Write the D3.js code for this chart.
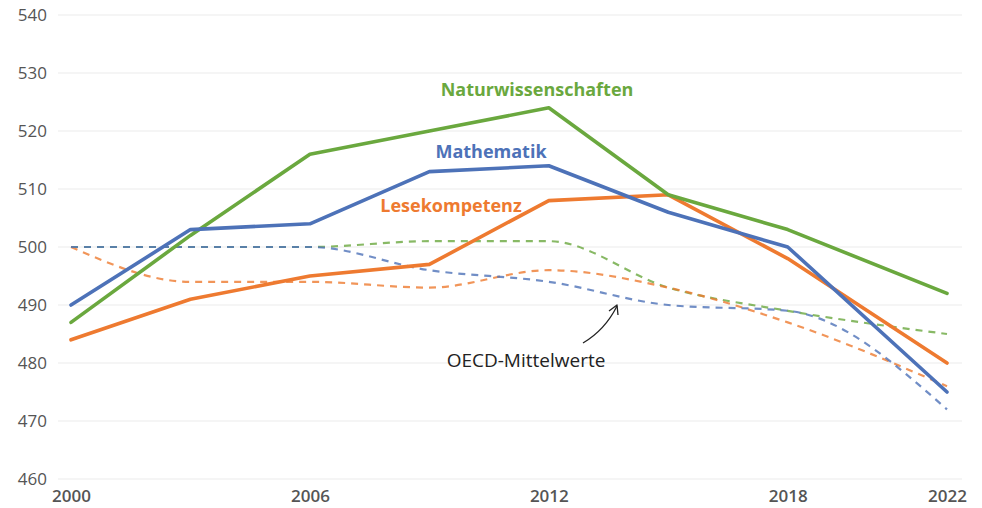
<!DOCTYPE html>
<html>
<head>
<meta charset="utf-8">
<script src="https://cdn.jsdelivr.net/npm/d3@7"></script>
<style>
  body { margin: 0; background: #fff; }
  svg { display: block; font-family: "Open Sans", "Noto Sans", sans-serif; }
</style>
</head>
<body>
<svg id="chart" width="982" height="508"></svg>
<script>
// PISA survey years and scores (Germany) plus OECD averages
const years = [2000, 2003, 2006, 2009, 2012, 2015, 2018, 2022];
const mathematik = [490, 503, 504, 513, 514, 506, 500, 475];
const lesekompetenz = [484, 491, 495, 497, 508, 509, 498, 480];
const naturwissenschaften = [487, 502, 516, 520, 524, 509, 503, 492];
const oecdMathematik = [500, 500, 500, 496, 494, 490, 489, 472];
const oecdLesen = [500, 494, 494, 493, 496, 493, 487, 476];
const oecdNatur = [500, 500, 500, 501, 501, 493, 489, 485];
const yTicks = [460, 470, 480, 490, 500, 510, 520, 530, 540];
const xTicks = [2000, 2006, 2012, 2018, 2022];

const colors = { natur: "#6aa83e", mathe: "#4d72b8", lesen: "#ee7a30" };

const svg = d3.select("#chart");
const x = d3.scaleLinear().domain([2000, 2022]).range([71, 947]);
const y = d3.scaleLinear().domain([460, 540]).range([479, 15]);

// horizontal gridlines
svg.append("g")
  .selectAll("line").data(yTicks).join("line")
  .attr("x1", 58).attr("x2", 962)
  .attr("y1", d => y(d)).attr("y2", d => y(d))
  .attr("stroke", "#ececec").attr("stroke-width", 1.2);

// y axis labels
const yAxis = svg.append("g").attr("transform", "translate(47,0)")
  .call(d3.axisLeft(y).tickValues(yTicks).tickSize(0).tickPadding(0));
yAxis.select(".domain").remove();
yAxis.selectAll("text")
  .attr("font-size", 17).attr("font-weight", 500).attr("fill", "#555").attr("font-family", "Open Sans, sans-serif");

// x axis labels
const xAxis = svg.append("g").attr("transform", "translate(0,487)")
  .call(d3.axisBottom(x).tickValues(xTicks).tickFormat(d3.format("d")).tickSize(0).tickPadding(3));
xAxis.select(".domain").remove();
xAxis.selectAll("text")
  .attr("font-size", 17).attr("font-weight", 600).attr("fill", "#555").attr("font-family", "Open Sans, sans-serif");

// OECD averages: smoothed dashed lines
const smooth = d3.line().x((d, i) => x(years[i])).y(d => y(d)).curve(d3.curveMonotoneX);
[[oecdNatur, colors.natur], [oecdLesen, colors.lesen], [oecdMathematik, colors.mathe]].forEach(([vals, c]) => {
  svg.append("path").datum(vals)
    .attr("d", smooth)
    .attr("fill", "none").attr("stroke", c).attr("stroke-opacity", 0.8)
    .attr("stroke-width", 2.2).attr("stroke-dasharray", "7,6");
});

// Germany: solid lines
const straight = d3.line().x((d, i) => x(years[i])).y(d => y(d));
[[lesekompetenz, colors.lesen], [naturwissenschaften, colors.natur], [mathematik, colors.mathe]].forEach(([vals, c]) => {
  svg.append("path").datum(vals)
    .attr("d", straight)
    .attr("fill", "none").attr("stroke", c)
    .attr("stroke-width", 3.6).attr("stroke-linejoin", "round").attr("stroke-linecap", "round");
});

// series labels
const labels = [
  { text: "Naturwissenschaften", x: 537, y: 96, c: colors.natur },
  { text: "Mathematik", x: 491, y: 158, c: colors.mathe },
  { text: "Lesekompetenz", x: 451, y: 212, c: colors.lesen }
];
svg.append("g").selectAll("text").data(labels).join("text")
  .attr("x", d => d.x).attr("y", d => d.y)
  .attr("text-anchor", "middle")
  .attr("font-size", 18).attr("font-weight", 700)
  .attr("fill", d => d.c)
  .text(d => d.text);

// OECD annotation with curved arrow
svg.append("text")
  .attr("x", 526).attr("y", 367).attr("text-anchor", "middle")
  .attr("font-size", 19).attr("font-weight", 500).attr("fill", "#222")
  .text("OECD-Mittelwerte");

svg.append("path")
  .attr("d", "M583,343 Q605,330 617,306")
  .attr("fill", "none").attr("stroke", "#222").attr("stroke-width", 1.3);
svg.append("path")
  .attr("d", "M609,311 L617,305 L618,315")
  .attr("fill", "none").attr("stroke", "#222").attr("stroke-width", 1.3)
  .attr("stroke-linejoin", "round");
</script>
</body>
</html>
